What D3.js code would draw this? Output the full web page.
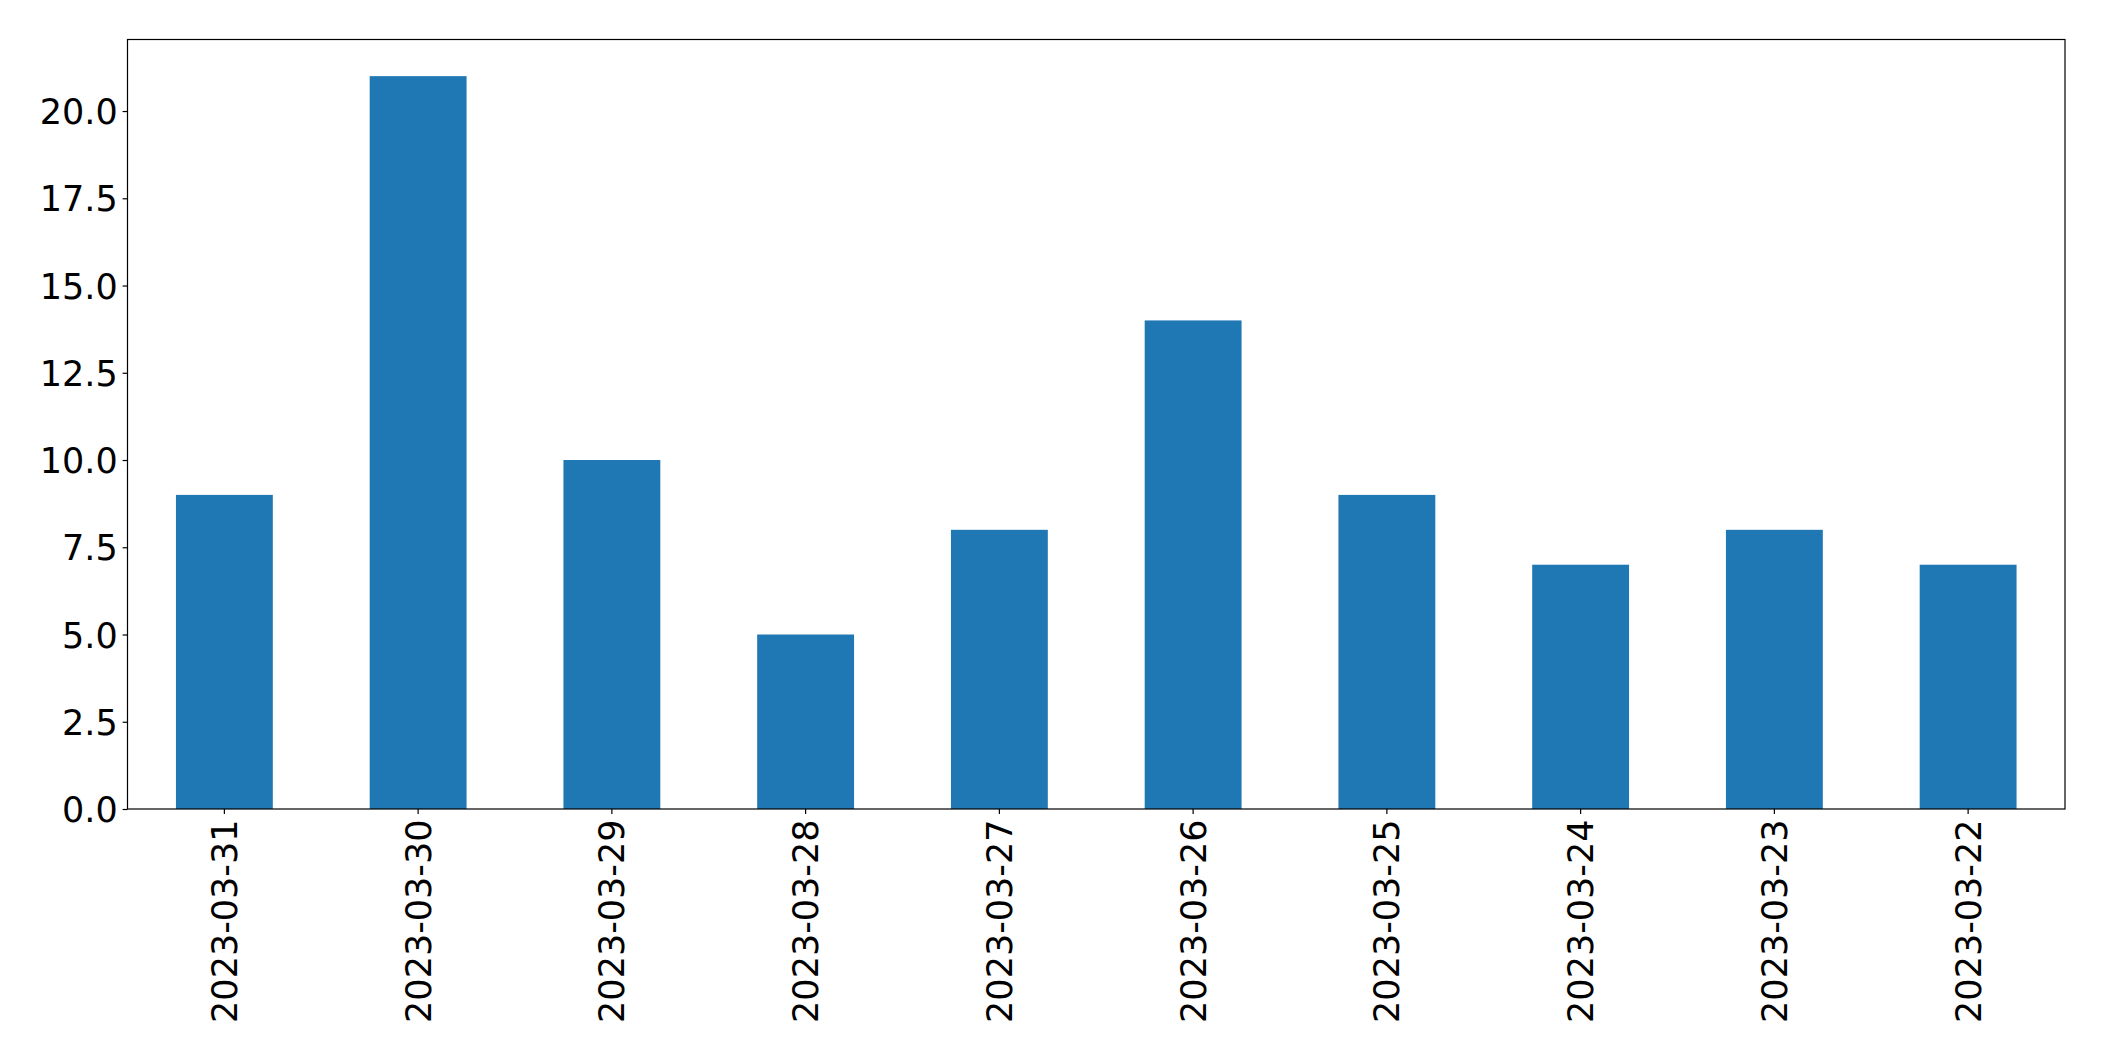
<!DOCTYPE html>
<html>
<head>
<meta charset="utf-8">
<script src="https://cdn.jsdelivr.net/npm/d3@7"></script>
<style>
html,body{margin:0;padding:0;background:#fff;}
svg{display:block;}
text{font-family:"DejaVu Sans",sans-serif;fill:#000;}
</style>
</head>
<body>
<script>
const categories = ["2023-03-31","2023-03-30","2023-03-29","2023-03-28","2023-03-27","2023-03-26","2023-03-25","2023-03-24","2023-03-23","2023-03-22"];
const values = [9, 21, 10, 5, 8, 14, 9, 7, 8, 7];
const yTicks = [0, 2.5, 5, 7.5, 10, 12.5, 15, 17.5, 20];

const W = 2104, H = 1061;
const m = {left: 127.5, top: 39.5, right: 2065, bottom: 809};
const fontSize = 35;

const svg = d3.select("body").append("svg").attr("width", W).attr("height", H);

const x = d3.scaleBand().domain(categories).range([m.left, m.right]).paddingInner(0.5).paddingOuter(0.25);
const y = d3.scaleLinear().domain([0, 22.05]).range([m.bottom, m.top]);

svg.append("g").selectAll("rect").data(values).join("rect")
  .attr("x", (d, i) => x(categories[i]))
  .attr("width", x.bandwidth())
  .attr("y", d => y(d))
  .attr("height", d => y(0) - y(d))
  .attr("fill", "#1f77b4");

// frame
svg.append("rect").attr("x", m.left).attr("y", m.top)
  .attr("width", m.right - m.left).attr("height", m.bottom - m.top)
  .attr("fill", "none").attr("stroke", "#000").attr("stroke-width", 1.2);

const tickLen = 4.9, pad = 4.9;

const xAxis = d3.axisBottom(x).tickSize(tickLen).tickPadding(pad).tickSizeOuter(0);
const gx = svg.append("g").attr("transform", `translate(0,${m.bottom})`).call(xAxis);
gx.select(".domain").remove();
gx.selectAll(".tick line").attr("stroke", "#000").attr("stroke-width", 1.2);
gx.selectAll(".tick text")
  .attr("font-size", fontSize)
  .attr("font-family", "DejaVu Sans")
  .attr("fill", "#000")
  .attr("text-anchor", "end")
  .attr("transform", "rotate(-90)")
  .attr("x", -10.5)
  .attr("y", 0)
  .attr("dy", "0.36em");

const yAxis = d3.axisLeft(y).tickValues(yTicks).tickFormat(d3.format(".1f")).tickSize(tickLen).tickPadding(pad).tickSizeOuter(0);
const gy = svg.append("g").attr("transform", `translate(${m.left},0)`).call(yAxis);
gy.select(".domain").remove();
gy.selectAll(".tick line").attr("stroke", "#000").attr("stroke-width", 1.2);
gy.selectAll(".tick text")
  .attr("font-size", fontSize)
  .attr("font-family", "DejaVu Sans")
  .attr("fill", "#000")
  .attr("dy", "0.36em");
</script>
</body>
</html>
